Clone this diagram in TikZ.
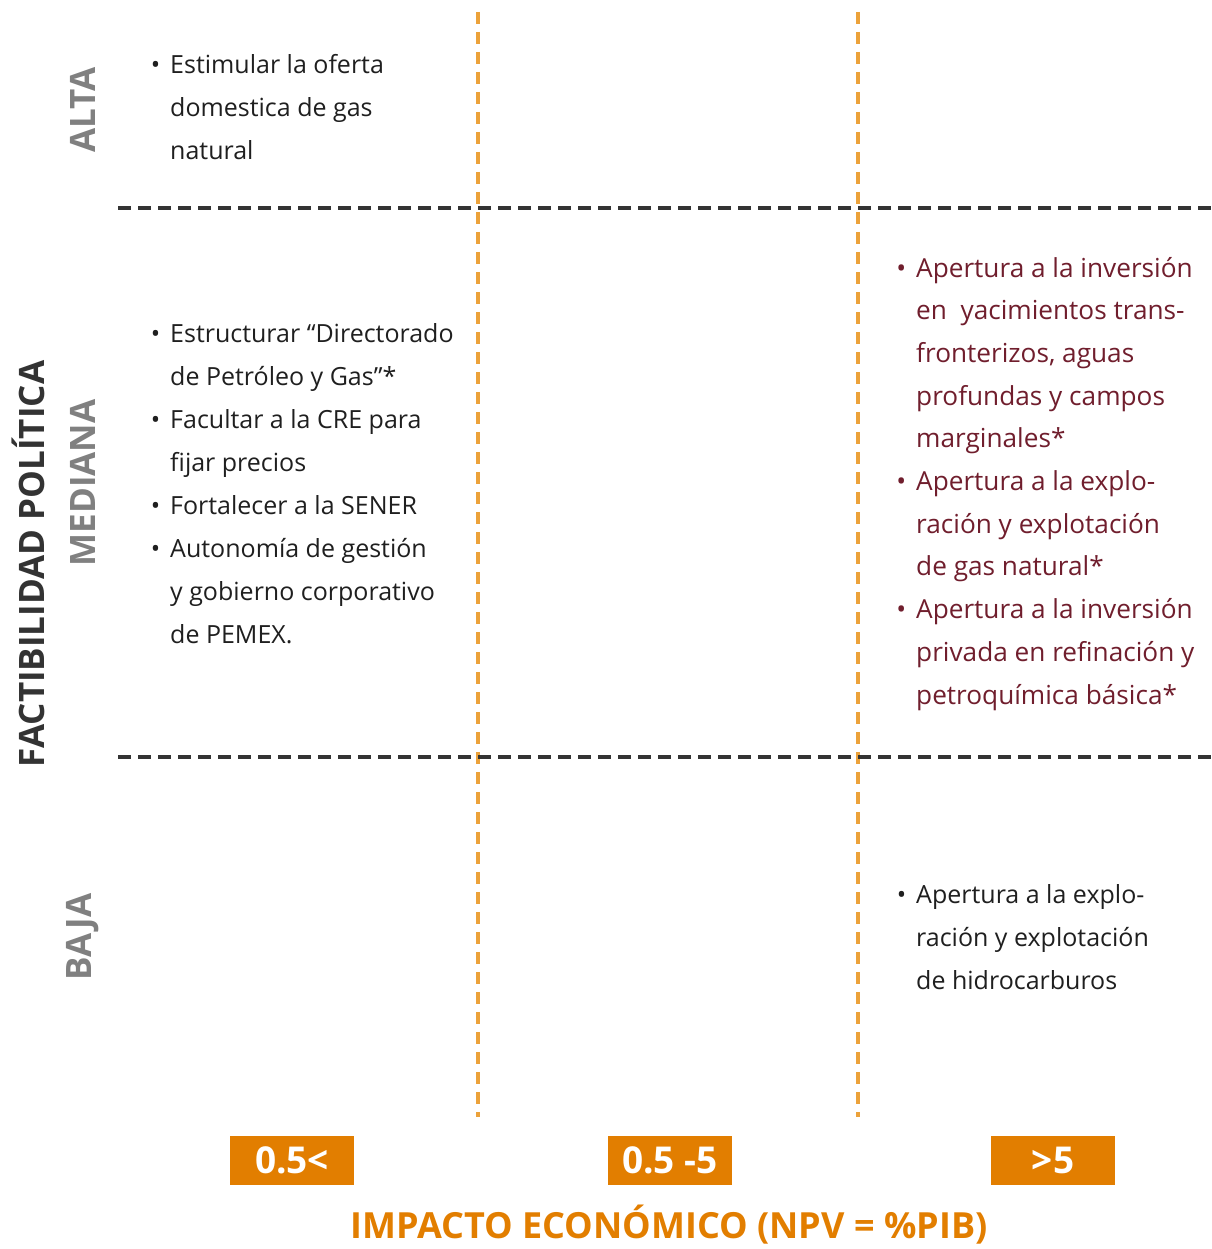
\documentclass[tikz,border=0pt]{standalone}
\usepackage{fontspec}
\setmainfont{Open Sans}
\usepackage{tikz}
\usetikzlibrary{positioning}
\definecolor{Naranja}{RGB}{226,126,0}
\definecolor{NaranjaClaro}{RGB}{236,162,58}
\definecolor{Vino}{RGB}{112,30,45}
\definecolor{GrisNivel}{RGB}{128,128,128}
\definecolor{GrisOscuro}{RGB}{51,51,51}
\newcommand{\bul}{\llap{\textbullet\hspace{10pt}}}
\newcommand{\lista}[1]{\begin{tabular}[t]{@{}l@{}}#1\end{tabular}}

\begin{document}
\begin{tikzpicture}[x=1pt,y=-1pt,
  texto/.style={anchor=base west, inner sep=0pt, font=\fontsize{25}{43}\selectfont, text=black!88},
  nivel/.style={rotate=90, inner sep=0pt, font=\fontsize{35}{40}\selectfont\bfseries, text=GrisNivel},
  caja/.style={fill=Naranja, minimum width=124pt, minimum height=49pt, inner sep=0pt, text=white, font=\fontsize{37}{40}\selectfont\bfseries},
  divh/.style={GrisOscuro, line width=4pt, dash pattern=on 13pt off 7pt},
  divv/.style={NaranjaClaro, line width=3.5pt, dash pattern=on 12pt off 8pt}]
\useasboundingbox (0,0) rectangle (1211,1249);
%
% columnas y filas
\draw[divv] (478,12) -- (478,1117);
\draw[divv] (858,12) -- (858,1117);
\draw[divh] (118,208) -- (1211,208);
\draw[divh] (118,757) -- (1211,757);
%
% ejes
\node[nivel] (alta) at (83,110) {ALTA};
\node[nivel] (mediana) at (83,483) {MEDIANA};
\node[nivel] (baja) at (83,937) {BAJA};
\node[nivel, text=GrisOscuro] (factibilidad) at (28,564) {FACTIBILIDAD POLÍTICA};
\node[caja] (rango1) at (292,1160.5) {0.5<};
\node[caja] (rango2) at (670,1160.5) {0.5 -5};
\node[caja] (rango3) at (1053,1160.5) {>5};
\node[font=\fontsize{36}{40}\selectfont\bfseries, text=Naranja] (impacto) at (669,1225) {IMPACTO ECONÓMICO (NPV = \%PIB)};
%
% medidas
\node[texto] (alta-baja) at (170,74) {\lista{\bul Estimular la oferta\\ domestica de gas\\ natural}};
\node[texto] (mediana-baja) at (170,342) {\lista{\bul Estructurar “Directorado\\ de Petróleo y Gas”*\\ \bul Facultar a la CRE para\\ fijar precios\\ \bul Fortalecer a la SENER\\ \bul Autonomía de gestión\\ y gobierno corporativo\\ de PEMEX.}};
\node[texto, text=Vino, font=\fontsize{26.2}{42.7}\selectfont] (mediana-alto) at (916,277) {\lista{\bul Apertura a la inversión\\ en\ \ yacimientos trans-\\ fronterizos, aguas\\ profundas y campos\\ marginales*\\ \bul Apertura a la explo-\\ ración y explotación\\ de gas natural*\\ \bul Apertura a la inversión\\ privada en refinación y\\ petroquímica básica*}};
\node[texto] (baja-alto) at (916,903) {\lista{\bul Apertura a la explo-\\ ración y explotación\\ de hidrocarburos}};
%
\end{tikzpicture}
\end{document}
